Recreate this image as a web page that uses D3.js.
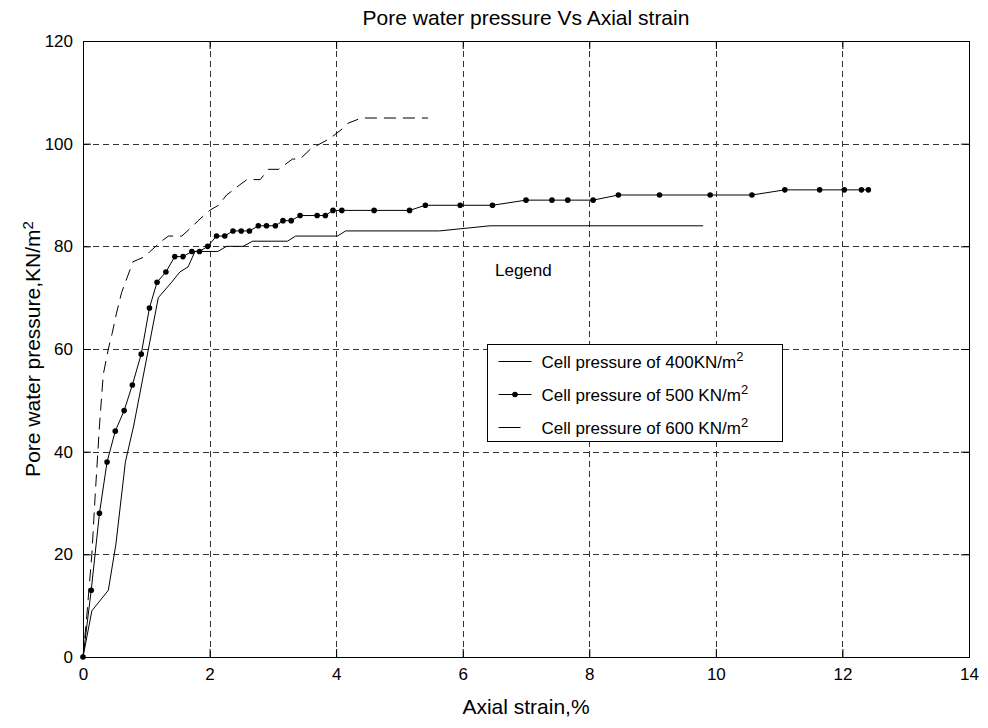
<!DOCTYPE html>
<meta charset="utf-8">
<style>
	body {
		margin: 0;
		background: #fff;
	}
	svg {
		font-family: "Liberation Sans", Arial, sans-serif;
	}
	.grid line {
		stroke: #333;
		stroke-dasharray: 6,4;
	}
	.axis path, .axis line {
		stroke: #000;
	}
	.axis text {
		font-size: 17px;
		fill: #000;
	}
	.series {
		fill: none;
		stroke: #000;
		stroke-width: 1;
	}
	.dot {
		fill: #000;
	}
</style>
<script src="https://d3js.org/d3.v7.min.js"></script>
<svg width="988" height="728" class="chart"></svg>
<script>

	var xTicks = [0, 2, 4, 6, 8, 10, 12, 14];
	var yTicks = [0, 20, 40, 60, 80, 100, 120];

	// cell pressure 400 KN/m2 (solid)
	var strain400 = [0, 0.14, 0.40, 0.52, 0.67, 0.80, 1.19, 1.40, 1.53, 1.66, 1.77, 2.13, 2.27, 2.53, 2.68, 3.23, 3.36, 4.02, 4.15, 5.63, 6.43, 9.80];
	var pwp400 = [0, 9, 13, 22, 38, 45, 70, 73, 75, 76, 79, 79, 80, 80, 81, 81, 82, 82, 83, 83, 84, 84];

	// cell pressure 500 KN/m2 (solid with dots)
	var strain500 = [0, 0.13, 0.26, 0.38, 0.51, 0.65, 0.78, 0.92, 1.05, 1.17, 1.31, 1.45, 1.58, 1.72, 1.84, 1.97, 2.11, 2.24, 2.37, 2.50, 2.63, 2.77, 2.90, 3.04, 3.16, 3.29, 3.43, 3.70, 3.83, 3.95, 4.09, 4.60, 5.16, 5.41, 5.96, 6.47, 7.00, 7.41, 7.66, 8.06, 8.46, 9.11, 9.91, 10.57, 11.09, 11.64, 12.03, 12.30, 12.41];
	var pwp500 = [0, 13, 28, 38, 44, 48, 53, 59, 68, 73, 75, 78, 78, 79, 79, 80, 82, 82, 83, 83, 83, 84, 84, 84, 85, 85, 86, 86, 86, 87, 87, 87, 87, 88, 88, 88, 89, 89, 89, 89, 90, 90, 90, 90, 91, 91, 91, 91, 91];

	// cell pressure 600 KN/m2 (dashed)
	var strain600 = [0, 0.06, 0.14, 0.19, 0.26, 0.32, 0.40, 0.46, 0.53, 0.61, 0.70, 0.79, 0.98, 1.06, 1.24, 1.35, 1.48, 1.56, 1.74, 1.82, 2.00, 2.14, 2.27, 2.48, 2.59, 2.80, 2.93, 3.09, 3.31, 3.43, 3.60, 3.90, 4.11, 4.19, 4.40, 5.45];
	var pwp600 = [0, 8, 20, 31, 45, 55, 60, 63, 67, 71, 74, 77, 78, 79, 81, 82, 82, 82, 84, 85, 87, 88, 90, 92, 93, 93, 95, 95, 97, 97, 99, 101, 103, 104, 105, 105];

	var svg = d3.select(".chart"),
		margin = {top: 41, right: 19, bottom: 71, left: 83},
		width = svg.attr("width") - margin.left - margin.right,
		height = svg.attr("height") - margin.top - margin.bottom;

	var x = d3.scaleLinear().domain([0, 14]).range([0, width]);
	var y = d3.scaleLinear().domain([0, 120]).range([height, 0]);

	var g = svg.append("g")
		.attr("transform", "translate(" + margin.left + "," + margin.top + ")");

	// grid
	var grid = g.append("g").attr("class", "grid");
	grid.selectAll(".gx")
		.data(xTicks.slice(1, -1))
		.enter().append("line")
			.attr("x1", function(d) { return Math.round(x(d)) + 0.5; })
			.attr("x2", function(d) { return Math.round(x(d)) + 0.5; })
			.attr("y1", 0)
			.attr("y2", height);
	grid.selectAll(".gy")
		.data(yTicks.slice(1, -1))
		.enter().append("line")
			.attr("y1", function(d) { return Math.round(y(d)) + 0.5; })
			.attr("y2", function(d) { return Math.round(y(d)) + 0.5; })
			.attr("x1", 0)
			.attr("x2", width);

	// axes, ticks pointing inward on all four sides
	g.append("g")
		.attr("class", "axis")
		.attr("transform", "translate(0," + height + ")")
		.call(d3.axisBottom(x).tickValues(xTicks).tickSizeInner(-8).tickSizeOuter(0).tickPadding(11));
	g.append("g")
		.attr("class", "axis")
		.call(d3.axisTop(x).tickValues(xTicks).tickSizeInner(-8).tickSizeOuter(0).tickFormat(""));
	g.append("g")
		.attr("class", "axis")
		.call(d3.axisLeft(y).tickValues(yTicks).tickSizeInner(-8).tickSizeOuter(0).tickPadding(10));
	g.append("g")
		.attr("class", "axis")
		.attr("transform", "translate(" + width + ",0)")
		.call(d3.axisRight(y).tickValues(yTicks).tickSizeInner(-8).tickSizeOuter(0).tickFormat(""));

	g.append("rect")
		.attr("x", 0.5).attr("y", 0.5)
		.attr("width", width).attr("height", height)
		.attr("fill", "none").attr("stroke", "#000");

	var line = d3.line()
		.x(function(d) { return x(d[0]); })
		.y(function(d) { return y(d[1]); });

	var s400 = d3.zip(strain400, pwp400),
		s500 = d3.zip(strain500, pwp500),
		s600 = d3.zip(strain600, pwp600);

	g.append("path").attr("class", "series").attr("d", line(s400));
	g.append("path").attr("class", "series").attr("d", line(s500));
	g.append("path").attr("class", "series").attr("stroke-dasharray", "12,7").attr("d", line(s600));

	g.selectAll(".dot")
		.data(s500)
		.enter().append("circle")
			.attr("class", "dot")
			.attr("r", 2.8)
			.attr("cx", function(d) { return x(d[0]); })
			.attr("cy", function(d) { return y(d[1]); });

	// title and axis labels
	svg.append("text")
		.attr("x", margin.left + width / 2)
		.attr("y", 25)
		.attr("text-anchor", "middle")
		.style("font-size", "21px")
		.text("Pore water pressure Vs Axial strain");

	svg.append("text")
		.attr("x", margin.left + width / 2)
		.attr("y", 714)
		.attr("text-anchor", "middle")
		.style("font-size", "21px")
		.text("Axial strain,%");

	var ylab = svg.append("text")
		.attr("transform", "translate(40," + (margin.top + height / 2) + ") rotate(-90)")
		.attr("text-anchor", "middle")
		.style("font-size", "21px");
	ylab.append("tspan").text("Pore water pressure,KN/m");
	ylab.append("tspan").attr("dy", "-0.45em").style("font-size", "15px").text("2");

	// legend
	var legendNames = ["Cell pressure of 400KN/m", "Cell pressure of 500 KN/m", "Cell pressure of 600 KN/m"];
	var legendDash = [null, null, "22,12"];

	svg.append("text")
		.attr("x", 495).attr("y", 276)
		.style("font-size", "17px")
		.text("Legend");

	var leg = svg.append("g").attr("transform", "translate(487.5,344.5)");
	leg.append("rect")
		.attr("width", 295).attr("height", 97)
		.attr("fill", "#fff").attr("stroke", "#000");

	var item = leg.selectAll(".item")
		.data(legendNames)
		.enter().append("g")
			.attr("transform", function(d, i) { return "translate(0," + (17 + i * 33) + ")"; });

	item.append("line")
		.attr("x1", 11).attr("x2", 44)
		.attr("stroke", "#000")
		.attr("stroke-dasharray", function(d, i) { return legendDash[i]; });

	item.filter(function(d, i) { return i === 1; })
		.append("circle")
			.attr("class", "dot")
			.attr("cx", 27.5).attr("r", 2.8);

	var lt = item.append("text")
		.attr("x", 54).attr("y", 6)
		.style("font-size", "17px");
	lt.append("tspan").text(function(d) { return d; });
	lt.append("tspan").attr("dy", "-0.5em").style("font-size", "13px").text("2");

</script>
